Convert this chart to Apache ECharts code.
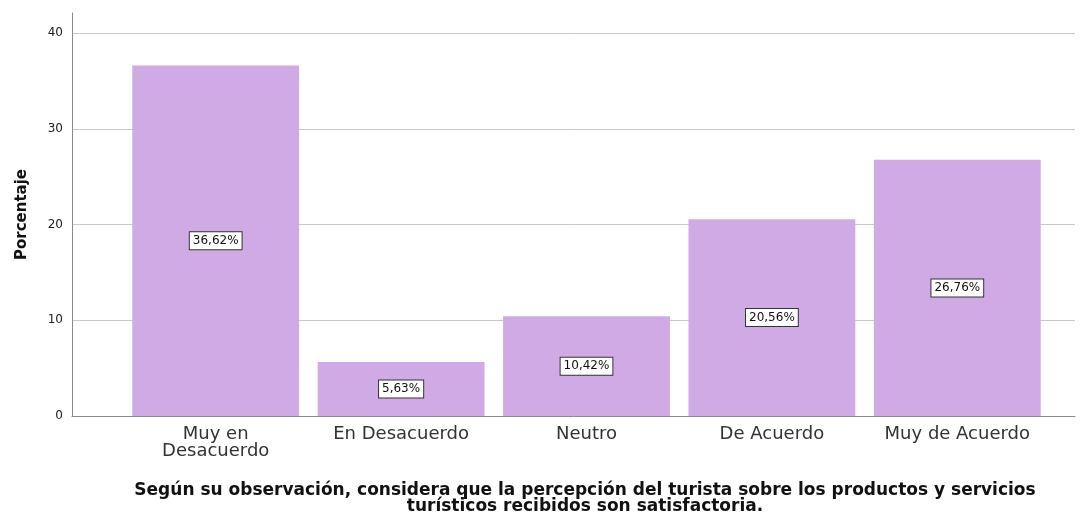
<!DOCTYPE html>
<html>
<head>
<meta charset="utf-8">
<script src="https://cdn.jsdelivr.net/npm/echarts@6/dist/echarts.min.js"></script>
<style>
  html, body { margin: 0; padding: 0; background: #fff; }
  #container { width: 1089px; height: 517px; }
</style>
</head>
<body>
<div id="container"></div>
<script>
var dom = document.getElementById("container")
var myChart = echarts.init(dom)

// categorias y porcentajes
var categorias = ['Muy en\nDesacuerdo', 'En Desacuerdo', 'Neutro', 'De Acuerdo', 'Muy de Acuerdo']
var porcentajes = [36.62, 5.63, 10.42, 20.56, 26.76]
var yTicks = [0, 10, 20, 30, 40]

var yMax = 42.1
var font = '"DejaVu Sans", Verdana, sans-serif'

var option = {
    animation: false,
    grid: [
        // ejes y lineas de fondo
        { left: 72, right: 14, top: 13, bottom: 101 },
        // barras
        { left: 123, width: 927, top: 13, bottom: 101 }
    ],
    xAxis: [
        {
            gridIndex: 0, type: 'value', min: 0, max: 1,
            axisLine: { show: true, onZero: false, lineStyle: { color: '#8a8a8a', width: 1 } },
            axisTick: { show: false }, axisLabel: { show: false }, splitLine: { show: false }
        },
        {
            gridIndex: 1, type: 'category', data: categorias,
            axisLine: { show: false }, axisTick: { show: false },
            axisLabel: {
                color: '#333', fontFamily: font, fontSize: 18, lineHeight: 17, margin: 10,
                interval: 0
            }
        }
    ],
    yAxis: [
        {
            gridIndex: 0, type: 'value', min: 0, max: yMax, interval: 10,
            name: 'Porcentaje', nameLocation: 'middle', nameGap: 42,
            nameTextStyle: { fontFamily: font, fontSize: 15, fontWeight: 'bold', color: '#111' },
            axisLine: { show: true, lineStyle: { color: '#8a8a8a', width: 1 } },
            axisTick: { show: false },
            axisLabel: {
                showMaxLabel: false, color: '#222', fontFamily: font, fontSize: 12, margin: 9,
                formatter: function (v) { return yTicks.indexOf(v) >= 0 ? String(v) : '' }
            },
            splitLine: { show: true, showMinLine: false, showMaxLine: false, lineStyle: { color: '#c8c8c8', width: 1 } }
        },
        {
            gridIndex: 1, type: 'value', min: 0, max: yMax, show: false
        }
    ],
    title: {
        text: 'Según su observación, considera que la percepción del turista sobre los productos y servicios\nturísticos recibidos son satisfactoria.',
        left: 580, top: 478, textAlign: 'center',
        textStyle: { fontFamily: font, fontSize: 17, fontWeight: 'bold', color: '#111', lineHeight: 16 }
    },
    series: [{
        type: 'bar',
        xAxisIndex: 1, yAxisIndex: 1,
        data: porcentajes,
        barCategoryGap: '10%',
        itemStyle: { color: '#d0aae4' },
        label: {
            show: true, position: 'inside',
            formatter: function (p) { return p.value.toFixed(2).replace('.', ',') + '%' },
            color: '#111', fontFamily: font, fontSize: 12, lineHeight: 13,
            backgroundColor: '#fff', borderColor: '#333', borderWidth: 1,
            padding: [2, 3]
        }
    }]
}

myChart.setOption(option)
</script>
</body>
</html>
